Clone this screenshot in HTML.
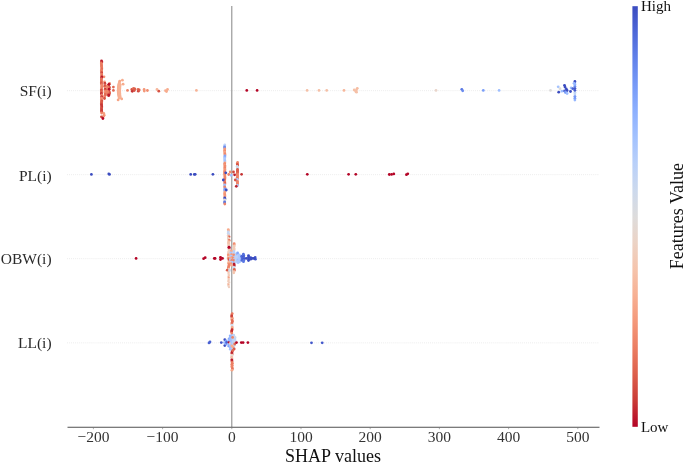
<!DOCTYPE html>
<html><head><meta charset="utf-8"><title>SHAP values</title>
<style>
html,body{margin:0;padding:0;background:#fff;}
body{width:685px;height:463px;overflow:hidden;font-family:"Liberation Serif","Times New Roman",serif;}
svg{display:block;}
text{font-family:"Liberation Serif","Times New Roman",serif;}
.tick{font-size:15.5px;fill:#333;text-anchor:middle;}
.feat{font-size:15.5px;fill:#2a2a2a;text-anchor:end;}
.cb{font-size:15px;fill:#111;}
</style></head><body>
<svg width="685" height="463" viewBox="0 0 685 463">
<defs><linearGradient id="cw" x1="0" y1="0" x2="0" y2="1">
<stop offset="0.0000" stop-color="#3b4cc0"/>
<stop offset="0.0625" stop-color="#4e68d8"/>
<stop offset="0.1250" stop-color="#6282ea"/>
<stop offset="0.1875" stop-color="#779af7"/>
<stop offset="0.2500" stop-color="#8db0fe"/>
<stop offset="0.3125" stop-color="#a3c2fe"/>
<stop offset="0.3750" stop-color="#b9d0f9"/>
<stop offset="0.4375" stop-color="#ccd9ed"/>
<stop offset="0.5000" stop-color="#dddcdc"/>
<stop offset="0.5625" stop-color="#ecd3c5"/>
<stop offset="0.6250" stop-color="#f5c4ac"/>
<stop offset="0.6875" stop-color="#f7b093"/>
<stop offset="0.7500" stop-color="#f4987a"/>
<stop offset="0.8125" stop-color="#eb7d62"/>
<stop offset="0.8750" stop-color="#dd5f4b"/>
<stop offset="0.9375" stop-color="#ca3b37"/>
<stop offset="1.0000" stop-color="#b40426"/>
</linearGradient></defs>
<rect width="685" height="463" fill="#fff"/>
<g stroke="#e9e9e9" stroke-width="0.9" stroke-dasharray="0.9 1.14" transform="translate(0,0.25)">
<line x1="67" x2="599" y1="90.4" y2="90.4"/>
<line x1="67" x2="599" y1="174.4" y2="174.4"/>
<line x1="67" x2="599" y1="258.4" y2="258.4"/>
<line x1="67" x2="599" y1="342.6" y2="342.6"/>
</g>
<line x1="231.8" x2="231.8" y1="6" y2="427" stroke="#8a8a8a" stroke-width="1.05"/>
<g>
<circle cx="119.5" cy="82.0" r="1.38" fill="#f7b093"/>
<circle cx="119.2" cy="83.0" r="1.38" fill="#f7b093"/>
<circle cx="118.9" cy="84.0" r="1.38" fill="#f7b093"/>
<circle cx="120.1" cy="84.5" r="1.38" fill="#f7b396"/>
<circle cx="118.7" cy="85.0" r="1.38" fill="#f7b093"/>
<circle cx="120.0" cy="85.5" r="1.38" fill="#f7b396"/>
<circle cx="118.5" cy="86.0" r="1.38" fill="#f7b093"/>
<circle cx="119.9" cy="86.5" r="1.38" fill="#f7b396"/>
<circle cx="118.4" cy="87.0" r="1.38" fill="#f7b093"/>
<circle cx="119.8" cy="87.5" r="1.38" fill="#f7b396"/>
<circle cx="118.3" cy="88.0" r="1.38" fill="#f7b093"/>
<circle cx="119.8" cy="88.5" r="1.38" fill="#f7b396"/>
<circle cx="118.2" cy="89.0" r="1.38" fill="#f7b093"/>
<circle cx="119.7" cy="89.5" r="1.38" fill="#f7b396"/>
<circle cx="118.2" cy="90.0" r="1.38" fill="#f7b093"/>
<circle cx="119.7" cy="90.5" r="1.38" fill="#f7b396"/>
<circle cx="118.2" cy="91.0" r="1.38" fill="#f7b093"/>
<circle cx="119.7" cy="91.5" r="1.38" fill="#f7b396"/>
<circle cx="118.2" cy="92.0" r="1.38" fill="#f7b093"/>
<circle cx="119.7" cy="92.5" r="1.38" fill="#f7b396"/>
<circle cx="118.3" cy="93.0" r="1.38" fill="#f7b093"/>
<circle cx="119.8" cy="93.5" r="1.38" fill="#f7b396"/>
<circle cx="118.4" cy="94.0" r="1.38" fill="#f7b093"/>
<circle cx="119.8" cy="94.5" r="1.38" fill="#f7b396"/>
<circle cx="118.6" cy="95.0" r="1.38" fill="#f7b093"/>
<circle cx="119.9" cy="95.5" r="1.38" fill="#f7b396"/>
<circle cx="118.8" cy="96.0" r="1.38" fill="#f7b093"/>
<circle cx="120.0" cy="96.5" r="1.38" fill="#f7b396"/>
<circle cx="119.0" cy="97.0" r="1.38" fill="#f7b093"/>
<circle cx="120.2" cy="97.5" r="1.38" fill="#f7b396"/>
<circle cx="119.2" cy="98.0" r="1.38" fill="#f7b093"/>
<circle cx="119.8" cy="81.1" r="1.38" fill="#f7a98b"/>
<circle cx="122.4" cy="80.2" r="1.38" fill="#f7ac8e"/>
<circle cx="123.1" cy="84.2" r="1.38" fill="#f7ac8e"/>
<circle cx="118.1" cy="99.9" r="1.38" fill="#f6a586"/>
<circle cx="121.7" cy="98.9" r="1.38" fill="#f7a98b"/>
<circle cx="109.5" cy="83.5" r="1.38" fill="#ee8468"/>
<circle cx="109.1" cy="84.5" r="1.38" fill="#e36c55"/>
<circle cx="108.3" cy="85.5" r="1.38" fill="#bb1b2c"/>
<circle cx="108.7" cy="86.5" r="1.38" fill="#dc5d4a"/>
<circle cx="109.5" cy="87.5" r="1.38" fill="#dc5d4a"/>
<circle cx="108.3" cy="88.5" r="1.38" fill="#ea7b60"/>
<circle cx="108.8" cy="89.5" r="1.38" fill="#bb1b2c"/>
<circle cx="108.3" cy="90.5" r="1.38" fill="#bb1b2c"/>
<circle cx="109.0" cy="91.5" r="1.38" fill="#dc5d4a"/>
<circle cx="109.4" cy="92.5" r="1.38" fill="#dc5d4a"/>
<circle cx="109.5" cy="93.5" r="1.38" fill="#dc5d4a"/>
<circle cx="109.0" cy="94.5" r="1.38" fill="#dc5d4a"/>
<circle cx="108.8" cy="95.5" r="1.38" fill="#bb1b2c"/>
<circle cx="107.3" cy="86.0" r="1.38" fill="#ee8468"/>
<circle cx="107.5" cy="87.5" r="1.38" fill="#ee8468"/>
<circle cx="107.6" cy="89.0" r="1.38" fill="#ee8468"/>
<circle cx="107.6" cy="90.5" r="1.38" fill="#f18d6f"/>
<circle cx="107.4" cy="92.0" r="1.38" fill="#ee8468"/>
<circle cx="107.5" cy="93.5" r="1.38" fill="#ee8468"/>
<circle cx="107.6" cy="95.0" r="1.38" fill="#e36c55"/>
<circle cx="104.5" cy="82.0" r="1.38" fill="#f4987a"/>
<circle cx="104.9" cy="83.5" r="1.38" fill="#c53334"/>
<circle cx="104.9" cy="85.0" r="1.38" fill="#e36c55"/>
<circle cx="104.7" cy="86.5" r="1.38" fill="#d65244"/>
<circle cx="105.3" cy="88.0" r="1.38" fill="#f18d6f"/>
<circle cx="105.2" cy="89.5" r="1.38" fill="#c53334"/>
<circle cx="105.0" cy="91.0" r="1.38" fill="#ee8468"/>
<circle cx="104.9" cy="92.5" r="1.38" fill="#f4987a"/>
<circle cx="105.2" cy="94.0" r="1.38" fill="#e36c55"/>
<circle cx="105.0" cy="95.5" r="1.38" fill="#e36c55"/>
<circle cx="104.4" cy="97.0" r="1.38" fill="#ee8468"/>
<circle cx="104.5" cy="98.5" r="1.38" fill="#d65244"/>
<circle cx="104.0" cy="76.8" r="1.38" fill="#f39577"/>
<circle cx="101.5" cy="61.0" r="1.38" fill="#bb1b2c"/>
<circle cx="101.9" cy="62.0" r="1.38" fill="#bb1b2c"/>
<circle cx="101.3" cy="63.0" r="1.38" fill="#e8765c"/>
<circle cx="101.3" cy="64.0" r="1.38" fill="#ec7f63"/>
<circle cx="101.6" cy="65.0" r="1.38" fill="#ec7f63"/>
<circle cx="101.5" cy="66.0" r="1.38" fill="#e8765c"/>
<circle cx="101.7" cy="67.0" r="1.38" fill="#e8765c"/>
<circle cx="101.8" cy="68.0" r="1.38" fill="#ec7f63"/>
<circle cx="101.8" cy="69.0" r="1.38" fill="#e36c55"/>
<circle cx="101.6" cy="70.0" r="1.38" fill="#e8765c"/>
<circle cx="101.3" cy="71.0" r="1.38" fill="#ec7f63"/>
<circle cx="101.7" cy="72.0" r="1.38" fill="#ec7f63"/>
<circle cx="101.7" cy="73.0" r="1.38" fill="#c32e31"/>
<circle cx="101.8" cy="74.0" r="1.38" fill="#ec7f63"/>
<circle cx="101.7" cy="75.0" r="1.38" fill="#e8765c"/>
<circle cx="101.5" cy="76.0" r="1.38" fill="#ec7f63"/>
<circle cx="101.9" cy="77.0" r="1.38" fill="#bb1b2c"/>
<circle cx="101.5" cy="78.0" r="1.38" fill="#bb1b2c"/>
<circle cx="101.4" cy="79.0" r="1.38" fill="#ec7f63"/>
<circle cx="101.4" cy="80.0" r="1.38" fill="#e36c55"/>
<circle cx="101.4" cy="81.0" r="1.38" fill="#e8765c"/>
<circle cx="101.5" cy="82.0" r="1.38" fill="#e36c55"/>
<circle cx="101.3" cy="83.0" r="1.38" fill="#dc5d4a"/>
<circle cx="101.5" cy="84.0" r="1.38" fill="#dc5d4a"/>
<circle cx="101.8" cy="85.0" r="1.38" fill="#ee8468"/>
<circle cx="101.8" cy="86.0" r="1.38" fill="#f18d6f"/>
<circle cx="101.7" cy="87.0" r="1.38" fill="#ee8468"/>
<circle cx="101.7" cy="88.0" r="1.38" fill="#ee8468"/>
<circle cx="101.9" cy="89.0" r="1.38" fill="#f18d6f"/>
<circle cx="101.3" cy="90.0" r="1.38" fill="#d65244"/>
<circle cx="101.4" cy="91.0" r="1.38" fill="#d65244"/>
<circle cx="101.3" cy="92.0" r="1.38" fill="#e36c55"/>
<circle cx="101.5" cy="93.0" r="1.38" fill="#d65244"/>
<circle cx="101.4" cy="94.0" r="1.38" fill="#bb1b2c"/>
<circle cx="101.7" cy="95.0" r="1.38" fill="#ee8468"/>
<circle cx="101.9" cy="96.0" r="1.38" fill="#ee8468"/>
<circle cx="101.6" cy="97.0" r="1.38" fill="#bb1b2c"/>
<circle cx="101.5" cy="98.0" r="1.38" fill="#f18d6f"/>
<circle cx="101.4" cy="99.0" r="1.38" fill="#f18d6f"/>
<circle cx="101.3" cy="100.0" r="1.38" fill="#f18d6f"/>
<circle cx="101.9" cy="101.0" r="1.38" fill="#d65244"/>
<circle cx="101.4" cy="102.0" r="1.38" fill="#dc5d4a"/>
<circle cx="101.7" cy="103.0" r="1.38" fill="#dc5d4a"/>
<circle cx="101.3" cy="104.0" r="1.38" fill="#d65244"/>
<circle cx="101.6" cy="105.0" r="1.38" fill="#c53334"/>
<circle cx="101.7" cy="106.0" r="1.38" fill="#cc403a"/>
<circle cx="101.8" cy="107.0" r="1.38" fill="#c53334"/>
<circle cx="101.5" cy="108.0" r="1.38" fill="#d44e41"/>
<circle cx="101.5" cy="109.0" r="1.38" fill="#d44e41"/>
<circle cx="101.7" cy="110.0" r="1.38" fill="#cc403a"/>
<circle cx="101.4" cy="111.0" r="1.38" fill="#cc403a"/>
<circle cx="101.9" cy="112.0" r="1.38" fill="#cc403a"/>
<circle cx="101.6" cy="113.0" r="1.38" fill="#ee8468"/>
<circle cx="103.8" cy="113.5" r="1.38" fill="#f59d7e"/>
<circle cx="104.2" cy="115.2" r="1.38" fill="#f59d7e"/>
<circle cx="103.6" cy="116.3" r="1.38" fill="#f39577"/>
<circle cx="101.4" cy="116.8" r="1.38" fill="#d0473d"/>
<circle cx="102.9" cy="118.5" r="1.38" fill="#b40426"/>
<circle cx="108.9" cy="84.3" r="1.38" fill="#b70d28"/>
<circle cx="109.1" cy="89.2" r="1.38" fill="#b70d28"/>
<circle cx="108.7" cy="95.0" r="1.38" fill="#bb1b2c"/>
<circle cx="106.6" cy="91.5" r="1.38" fill="#ee8468"/>
<circle cx="113.4" cy="87.1" r="1.38" fill="#e16751"/>
<circle cx="113.4" cy="90.4" r="1.38" fill="#e16751"/>
<circle cx="127.5" cy="90.4" r="1.38" fill="#ee8468"/>
<circle cx="131.8" cy="89.5" r="1.38" fill="#d65244"/>
<circle cx="132.3" cy="91.3" r="1.38" fill="#c53334"/>
<circle cx="133.5" cy="88.5" r="1.38" fill="#e36c55"/>
<circle cx="134.3" cy="90.5" r="1.38" fill="#d65244"/>
<circle cx="134.8" cy="89.0" r="1.38" fill="#dc5d4a"/>
<circle cx="138.0" cy="89.3" r="1.38" fill="#e36c55"/>
<circle cx="138.3" cy="91.2" r="1.38" fill="#d0473d"/>
<circle cx="139.2" cy="90.0" r="1.38" fill="#dc5d4a"/>
<circle cx="144.1" cy="89.5" r="1.38" fill="#f4987a"/>
<circle cx="144.3" cy="91.0" r="1.38" fill="#f4987a"/>
<circle cx="147.4" cy="90.5" r="1.38" fill="#f18d6f"/>
<circle cx="157.0" cy="89.5" r="1.38" fill="#f7b79b"/>
<circle cx="158.8" cy="91.2" r="1.38" fill="#d65244"/>
<circle cx="165.5" cy="90.7" r="1.38" fill="#f7ac8e"/>
<circle cx="167.5" cy="89.5" r="1.38" fill="#f7ac8e"/>
<circle cx="166.5" cy="91.5" r="1.38" fill="#f7ac8e"/>
<circle cx="196.4" cy="90.4" r="1.38" fill="#f7b396"/>
<circle cx="246.8" cy="90.4" r="1.38" fill="#b40426"/>
<circle cx="257.1" cy="90.4" r="1.38" fill="#b40426"/>
<circle cx="307.1" cy="90.4" r="1.38" fill="#f5c0a7"/>
<circle cx="319.0" cy="90.4" r="1.38" fill="#f5c0a7"/>
<circle cx="326.7" cy="90.4" r="1.38" fill="#f5c0a7"/>
<circle cx="344.0" cy="90.4" r="1.38" fill="#f7b79b"/>
<circle cx="354.2" cy="90.0" r="1.38" fill="#f5c0a7"/>
<circle cx="355.8" cy="91.5" r="1.38" fill="#f5c0a7"/>
<circle cx="356.5" cy="89.8" r="1.38" fill="#f5c0a7"/>
<circle cx="357.3" cy="88.3" r="1.38" fill="#f6bda2"/>
<circle cx="356.5" cy="92.2" r="1.38" fill="#f5c0a7"/>
<circle cx="436.0" cy="90.4" r="1.38" fill="#e9d5cb"/>
<circle cx="461.8" cy="89.3" r="1.38" fill="#5977e3"/>
<circle cx="462.7" cy="90.8" r="1.38" fill="#6a8bef"/>
<circle cx="483.3" cy="90.4" r="1.38" fill="#7b9ff9"/>
<circle cx="499.1" cy="90.4" r="1.38" fill="#9ebeff"/>
<circle cx="550.5" cy="90.4" r="1.38" fill="#dddcdc"/>
<circle cx="558.2" cy="86.8" r="1.38" fill="#a5c3fe"/>
<circle cx="560.0" cy="88.7" r="1.38" fill="#dddcdc"/>
<circle cx="558.7" cy="92.2" r="1.38" fill="#3b4cc0"/>
<circle cx="561.9" cy="91.2" r="1.38" fill="#9ebeff"/>
<circle cx="564.5" cy="85.3" r="1.38" fill="#3b4cc0"/>
<circle cx="565.0" cy="87.0" r="1.38" fill="#3b4cc0"/>
<circle cx="564.5" cy="91.0" r="1.38" fill="#4961d2"/>
<circle cx="566.3" cy="89.0" r="1.38" fill="#3b4cc0"/>
<circle cx="567.1" cy="90.5" r="1.38" fill="#3b4cc0"/>
<circle cx="565.4" cy="92.5" r="1.38" fill="#7b9ff9"/>
<circle cx="567.1" cy="93.5" r="1.38" fill="#9ebeff"/>
<circle cx="570.5" cy="91.5" r="1.38" fill="#3b4cc0"/>
<circle cx="571.1" cy="88.0" r="1.38" fill="#9ebeff"/>
<circle cx="572.8" cy="88.7" r="1.38" fill="#4961d2"/>
<circle cx="574.9" cy="100.0" r="1.38" fill="#97b8ff"/>
<circle cx="574.9" cy="98.2" r="1.38" fill="#7b9ff9"/>
<circle cx="574.9" cy="96.3" r="1.38" fill="#7597f6"/>
<circle cx="574.9" cy="94.0" r="1.38" fill="#c0d4f5"/>
<circle cx="574.9" cy="92.3" r="1.38" fill="#c0d4f5"/>
<circle cx="574.9" cy="90.3" r="1.38" fill="#4358cb"/>
<circle cx="574.9" cy="88.3" r="1.38" fill="#4358cb"/>
<circle cx="574.9" cy="86.2" r="1.38" fill="#6a8bef"/>
<circle cx="574.9" cy="84.5" r="1.38" fill="#8db0fe"/>
<circle cx="574.9" cy="83.0" r="1.38" fill="#8db0fe"/>
<circle cx="574.9" cy="81.4" r="1.38" fill="#3b4cc0"/>
<circle cx="574.0" cy="83.3" r="1.38" fill="#97b8ff"/>
<circle cx="91.4" cy="174.4" r="1.38" fill="#3b4cc0"/>
<circle cx="108.8" cy="173.9" r="1.38" fill="#3b4cc0"/>
<circle cx="109.5" cy="174.4" r="1.38" fill="#3b4cc0"/>
<circle cx="190.7" cy="174.4" r="1.38" fill="#3b4cc0"/>
<circle cx="194.3" cy="174.4" r="1.38" fill="#3b4cc0"/>
<circle cx="195.2" cy="174.3" r="1.38" fill="#3b4cc0"/>
<circle cx="212.9" cy="174.3" r="1.38" fill="#3b4cc0"/>
<circle cx="224.8" cy="145.0" r="1.38" fill="#bad0f8"/>
<circle cx="224.6" cy="146.0" r="1.38" fill="#bad0f8"/>
<circle cx="224.6" cy="147.0" r="1.38" fill="#6a8bef"/>
<circle cx="224.7" cy="148.0" r="1.38" fill="#6a8bef"/>
<circle cx="224.8" cy="149.0" r="1.38" fill="#f39577"/>
<circle cx="224.7" cy="150.0" r="1.38" fill="#f6a586"/>
<circle cx="224.7" cy="151.0" r="1.38" fill="#ee8468"/>
<circle cx="224.7" cy="152.0" r="1.38" fill="#f6a586"/>
<circle cx="224.8" cy="153.0" r="1.38" fill="#f6a586"/>
<circle cx="224.9" cy="154.0" r="1.38" fill="#ee8468"/>
<circle cx="225.0" cy="155.0" r="1.38" fill="#f39577"/>
<circle cx="224.9" cy="156.0" r="1.38" fill="#82a6fb"/>
<circle cx="224.9" cy="157.0" r="1.38" fill="#82a6fb"/>
<circle cx="224.8" cy="158.0" r="1.38" fill="#9ebeff"/>
<circle cx="224.7" cy="159.0" r="1.38" fill="#afcafc"/>
<circle cx="224.8" cy="160.0" r="1.38" fill="#afcafc"/>
<circle cx="224.9" cy="161.0" r="1.38" fill="#9ebeff"/>
<circle cx="224.9" cy="162.0" r="1.38" fill="#afcafc"/>
<circle cx="224.9" cy="163.0" r="1.38" fill="#f6a586"/>
<circle cx="224.7" cy="164.0" r="1.38" fill="#ea7b60"/>
<circle cx="224.7" cy="165.0" r="1.38" fill="#f6a586"/>
<circle cx="225.0" cy="166.0" r="1.38" fill="#ee8468"/>
<circle cx="224.8" cy="167.0" r="1.38" fill="#f39577"/>
<circle cx="224.9" cy="168.0" r="1.38" fill="#ea7b60"/>
<circle cx="224.8" cy="169.0" r="1.38" fill="#f39577"/>
<circle cx="225.0" cy="170.0" r="1.38" fill="#f39577"/>
<circle cx="224.6" cy="171.0" r="1.38" fill="#f39577"/>
<circle cx="224.7" cy="172.0" r="1.38" fill="#ee8468"/>
<circle cx="224.7" cy="173.0" r="1.38" fill="#ee8468"/>
<circle cx="224.7" cy="174.0" r="1.38" fill="#ee8468"/>
<circle cx="224.8" cy="175.0" r="1.38" fill="#ee8468"/>
<circle cx="224.9" cy="176.0" r="1.38" fill="#f18d6f"/>
<circle cx="224.9" cy="177.0" r="1.38" fill="#ee8468"/>
<circle cx="225.0" cy="178.0" r="1.38" fill="#ee8468"/>
<circle cx="224.8" cy="179.0" r="1.38" fill="#ee8468"/>
<circle cx="224.8" cy="180.0" r="1.38" fill="#e36c55"/>
<circle cx="224.7" cy="181.0" r="1.38" fill="#ee8468"/>
<circle cx="224.8" cy="182.0" r="1.38" fill="#ee8468"/>
<circle cx="224.9" cy="183.0" r="1.38" fill="#dc5d4a"/>
<circle cx="224.9" cy="184.0" r="1.38" fill="#e36c55"/>
<circle cx="224.7" cy="185.0" r="1.38" fill="#9ebeff"/>
<circle cx="224.7" cy="186.0" r="1.38" fill="#9ebeff"/>
<circle cx="224.7" cy="187.0" r="1.38" fill="#ee8468"/>
<circle cx="225.0" cy="188.0" r="1.38" fill="#ee8468"/>
<circle cx="224.9" cy="189.0" r="1.38" fill="#7b9ff9"/>
<circle cx="224.7" cy="190.0" r="1.38" fill="#7b9ff9"/>
<circle cx="224.9" cy="191.0" r="1.38" fill="#7b9ff9"/>
<circle cx="224.9" cy="192.0" r="1.38" fill="#f6a586"/>
<circle cx="224.7" cy="193.0" r="1.38" fill="#f6a586"/>
<circle cx="224.7" cy="194.0" r="1.38" fill="#f4987a"/>
<circle cx="224.9" cy="195.0" r="1.38" fill="#f18d6f"/>
<circle cx="224.9" cy="196.0" r="1.38" fill="#f4987a"/>
<circle cx="224.9" cy="197.0" r="1.38" fill="#f4987a"/>
<circle cx="224.7" cy="198.0" r="1.38" fill="#3b4cc0"/>
<circle cx="225.0" cy="199.0" r="1.38" fill="#3b4cc0"/>
<circle cx="224.7" cy="200.0" r="1.38" fill="#dddcdc"/>
<circle cx="224.9" cy="201.0" r="1.38" fill="#dddcdc"/>
<circle cx="224.6" cy="202.0" r="1.38" fill="#5977e3"/>
<circle cx="224.7" cy="203.0" r="1.38" fill="#5977e3"/>
<circle cx="224.8" cy="204.0" r="1.38" fill="#ee8468"/>
<circle cx="223.3" cy="180.0" r="1.38" fill="#3b4cc0"/>
<circle cx="226.3" cy="190.0" r="1.38" fill="#3b4cc0"/>
<circle cx="225.8" cy="172.8" r="1.38" fill="#3b4cc0"/>
<circle cx="237.6" cy="162.5" r="1.38" fill="#ee8468"/>
<circle cx="237.3" cy="163.5" r="1.38" fill="#ee8468"/>
<circle cx="237.4" cy="164.5" r="1.38" fill="#d65244"/>
<circle cx="237.6" cy="165.5" r="1.38" fill="#d65244"/>
<circle cx="237.1" cy="166.5" r="1.38" fill="#cfdaea"/>
<circle cx="237.5" cy="167.5" r="1.38" fill="#cfdaea"/>
<circle cx="237.6" cy="168.5" r="1.38" fill="#cfdaea"/>
<circle cx="237.5" cy="169.5" r="1.38" fill="#dc5d4a"/>
<circle cx="237.6" cy="170.5" r="1.38" fill="#dc5d4a"/>
<circle cx="237.4" cy="171.5" r="1.38" fill="#dc5d4a"/>
<circle cx="237.6" cy="172.5" r="1.38" fill="#dc5d4a"/>
<circle cx="237.2" cy="173.5" r="1.38" fill="#e36c55"/>
<circle cx="237.4" cy="174.5" r="1.38" fill="#ee8468"/>
<circle cx="237.6" cy="175.5" r="1.38" fill="#ee8468"/>
<circle cx="237.5" cy="176.5" r="1.38" fill="#ee8468"/>
<circle cx="237.2" cy="177.5" r="1.38" fill="#ee8468"/>
<circle cx="237.5" cy="178.5" r="1.38" fill="#ea7b60"/>
<circle cx="237.2" cy="179.5" r="1.38" fill="#afcafc"/>
<circle cx="237.1" cy="180.5" r="1.38" fill="#afcafc"/>
<circle cx="237.5" cy="181.5" r="1.38" fill="#ee8468"/>
<circle cx="237.4" cy="182.5" r="1.38" fill="#ee8468"/>
<circle cx="237.4" cy="183.5" r="1.38" fill="#ee8468"/>
<circle cx="237.6" cy="184.5" r="1.38" fill="#ee8468"/>
<circle cx="237.6" cy="185.5" r="1.38" fill="#afcafc"/>
<circle cx="235.3" cy="180.0" r="1.38" fill="#d65244"/>
<circle cx="236.3" cy="186.3" r="1.38" fill="#be242e"/>
<circle cx="233.5" cy="172.0" r="1.38" fill="#d0473d"/>
<circle cx="234.6" cy="174.8" r="1.38" fill="#bb1b2c"/>
<circle cx="228.7" cy="174.5" r="1.38" fill="#ee8468"/>
<circle cx="230.2" cy="172.0" r="1.38" fill="#f18d6f"/>
<circle cx="231.1" cy="175.3" r="1.38" fill="#9ebeff"/>
<circle cx="241.6" cy="174.3" r="1.38" fill="#c53334"/>
<circle cx="307.3" cy="174.3" r="1.38" fill="#b40426"/>
<circle cx="348.6" cy="174.3" r="1.38" fill="#b40426"/>
<circle cx="355.8" cy="174.3" r="1.38" fill="#b40426"/>
<circle cx="389.3" cy="174.5" r="1.38" fill="#b40426"/>
<circle cx="391.6" cy="174.4" r="1.38" fill="#b40426"/>
<circle cx="393.8" cy="173.9" r="1.38" fill="#b40426"/>
<circle cx="406.4" cy="174.7" r="1.38" fill="#b40426"/>
<circle cx="407.8" cy="173.8" r="1.38" fill="#b40426"/>
<circle cx="136.1" cy="258.4" r="1.38" fill="#b40426"/>
<circle cx="203.6" cy="258.7" r="1.38" fill="#b40426"/>
<circle cx="205.2" cy="257.7" r="1.38" fill="#b40426"/>
<circle cx="215.1" cy="258.4" r="1.38" fill="#b40426"/>
<circle cx="214.3" cy="258.4" r="1.38" fill="#b40426"/>
<circle cx="220.5" cy="257.3" r="1.38" fill="#b40426"/>
<circle cx="220.5" cy="259.5" r="1.38" fill="#b40426"/>
<circle cx="222.5" cy="258.4" r="1.38" fill="#b40426"/>
<circle cx="228.3" cy="229.6" r="1.38" fill="#f7ac8e"/>
<circle cx="228.4" cy="230.8" r="1.38" fill="#f7ac8e"/>
<circle cx="228.2" cy="232.0" r="1.38" fill="#c6d6f1"/>
<circle cx="228.3" cy="233.2" r="1.38" fill="#c6d6f1"/>
<circle cx="228.7" cy="234.4" r="1.38" fill="#c6d6f1"/>
<circle cx="228.2" cy="235.6" r="1.38" fill="#efcfbf"/>
<circle cx="229.1" cy="236.8" r="1.38" fill="#dc5d4a"/>
<circle cx="228.3" cy="238.0" r="1.38" fill="#efcfbf"/>
<circle cx="228.5" cy="239.2" r="1.38" fill="#efcfbf"/>
<circle cx="229.2" cy="240.4" r="1.38" fill="#e8765c"/>
<circle cx="228.7" cy="241.6" r="1.38" fill="#f5c0a7"/>
<circle cx="228.5" cy="242.8" r="1.38" fill="#f5c0a7"/>
<circle cx="228.7" cy="244.0" r="1.38" fill="#f5c0a7"/>
<circle cx="228.7" cy="245.2" r="1.38" fill="#f2cbb7"/>
<circle cx="228.9" cy="246.4" r="1.38" fill="#efcfbf"/>
<circle cx="229.1" cy="247.6" r="1.38" fill="#b40426"/>
<circle cx="229.1" cy="248.8" r="1.38" fill="#b40426"/>
<circle cx="229.1" cy="250.0" r="1.38" fill="#f2cbb7"/>
<circle cx="229.0" cy="251.2" r="1.38" fill="#efcfbf"/>
<circle cx="228.6" cy="252.4" r="1.38" fill="#efcfbf"/>
<circle cx="228.6" cy="253.6" r="1.38" fill="#f2cbb7"/>
<circle cx="228.3" cy="254.8" r="1.38" fill="#f4987a"/>
<circle cx="228.4" cy="256.0" r="1.38" fill="#f4987a"/>
<circle cx="228.3" cy="257.2" r="1.38" fill="#f4c6af"/>
<circle cx="228.5" cy="258.4" r="1.38" fill="#ee8468"/>
<circle cx="229.1" cy="259.6" r="1.38" fill="#d65244"/>
<circle cx="229.1" cy="260.8" r="1.38" fill="#d65244"/>
<circle cx="228.9" cy="262.0" r="1.38" fill="#f6bda2"/>
<circle cx="228.5" cy="263.2" r="1.38" fill="#f7ac8e"/>
<circle cx="229.2" cy="264.4" r="1.38" fill="#ee8468"/>
<circle cx="228.9" cy="265.6" r="1.38" fill="#ee8468"/>
<circle cx="228.6" cy="266.8" r="1.38" fill="#ee8468"/>
<circle cx="228.4" cy="268.0" r="1.38" fill="#ea7b60"/>
<circle cx="228.9" cy="269.2" r="1.38" fill="#f2cbb7"/>
<circle cx="228.4" cy="270.4" r="1.38" fill="#f2cbb7"/>
<circle cx="228.9" cy="271.6" r="1.15" fill="#f2cbb7"/>
<circle cx="228.5" cy="272.8" r="1.15" fill="#f4c6af"/>
<circle cx="228.6" cy="274.0" r="1.15" fill="#efcfbf"/>
<circle cx="228.9" cy="275.2" r="1.15" fill="#f2cbb7"/>
<circle cx="228.5" cy="276.4" r="1.15" fill="#f2cbb7"/>
<circle cx="228.7" cy="277.6" r="1.15" fill="#f4987a"/>
<circle cx="228.6" cy="278.8" r="1.15" fill="#f2cbb7"/>
<circle cx="228.7" cy="280.0" r="1.15" fill="#f2cbb7"/>
<circle cx="228.3" cy="281.2" r="1.15" fill="#f2cbb7"/>
<circle cx="229.2" cy="282.4" r="1.15" fill="#efcfbf"/>
<circle cx="228.3" cy="283.6" r="1.15" fill="#f2cbb7"/>
<circle cx="228.5" cy="284.8" r="1.15" fill="#f7ac8e"/>
<circle cx="228.5" cy="286.0" r="1.15" fill="#efcfbf"/>
<circle cx="229.0" cy="287.2" r="1.15" fill="#efcfbf"/>
<circle cx="227.2" cy="270.2" r="1.38" fill="#dc5d4a"/>
<circle cx="229.6" cy="270.5" r="1.38" fill="#cfdaea"/>
<circle cx="229.0" cy="247.2" r="1.38" fill="#b40426"/>
<circle cx="234.2" cy="243.7" r="1.38" fill="#f18d6f"/>
<circle cx="234.1" cy="244.8" r="1.38" fill="#f18d6f"/>
<circle cx="234.3" cy="245.9" r="1.38" fill="#f2cbb7"/>
<circle cx="233.9" cy="247.1" r="1.38" fill="#f2cbb7"/>
<circle cx="234.0" cy="248.2" r="1.38" fill="#f2cbb7"/>
<circle cx="234.0" cy="249.3" r="1.38" fill="#f2cbb7"/>
<circle cx="234.0" cy="250.4" r="1.38" fill="#f2cbb7"/>
<circle cx="233.9" cy="251.5" r="1.38" fill="#bad0f8"/>
<circle cx="233.9" cy="252.7" r="1.38" fill="#bad0f8"/>
<circle cx="234.2" cy="253.8" r="1.38" fill="#bad0f8"/>
<circle cx="233.8" cy="254.9" r="1.38" fill="#f18d6f"/>
<circle cx="234.2" cy="256.0" r="1.38" fill="#f18d6f"/>
<circle cx="234.3" cy="257.1" r="1.38" fill="#afcafc"/>
<circle cx="233.8" cy="258.3" r="1.38" fill="#f7ac8e"/>
<circle cx="233.8" cy="259.4" r="1.38" fill="#afcafc"/>
<circle cx="233.7" cy="260.5" r="1.38" fill="#ee8468"/>
<circle cx="234.0" cy="261.6" r="1.38" fill="#ee8468"/>
<circle cx="234.3" cy="262.7" r="1.38" fill="#afcafc"/>
<circle cx="234.0" cy="263.9" r="1.38" fill="#bb1b2c"/>
<circle cx="234.2" cy="265.0" r="1.38" fill="#bb1b2c"/>
<circle cx="234.1" cy="266.1" r="1.38" fill="#bb1b2c"/>
<circle cx="233.7" cy="267.2" r="1.38" fill="#cfdaea"/>
<circle cx="234.1" cy="268.3" r="1.38" fill="#cfdaea"/>
<circle cx="234.3" cy="269.5" r="1.38" fill="#e16751"/>
<circle cx="234.3" cy="270.6" r="1.38" fill="#e16751"/>
<circle cx="233.9" cy="271.7" r="1.38" fill="#f4c6af"/>
<circle cx="233.8" cy="272.8" r="1.38" fill="#f4c6af"/>
<circle cx="231.3" cy="251.0" r="1.38" fill="#f7ac8e"/>
<circle cx="230.8" cy="253.0" r="1.38" fill="#adc9fd"/>
<circle cx="231.6" cy="254.6" r="1.38" fill="#f4987a"/>
<circle cx="231.0" cy="256.2" r="1.38" fill="#adc9fd"/>
<circle cx="232.3" cy="257.6" r="1.38" fill="#f18d6f"/>
<circle cx="230.6" cy="258.2" r="1.38" fill="#f7ac8e"/>
<circle cx="230.3" cy="259.8" r="1.38" fill="#adc9fd"/>
<circle cx="231.8" cy="260.4" r="1.38" fill="#ee8468"/>
<circle cx="232.0" cy="262.2" r="1.38" fill="#adc9fd"/>
<circle cx="230.9" cy="263.6" r="1.38" fill="#f4987a"/>
<circle cx="231.5" cy="265.3" r="1.38" fill="#f7ac8e"/>
<circle cx="236.1" cy="254.0" r="1.38" fill="#c0d4f5"/>
<circle cx="236.1" cy="255.6" r="1.38" fill="#bad0f8"/>
<circle cx="236.0" cy="257.2" r="1.38" fill="#c0d4f5"/>
<circle cx="235.9" cy="258.8" r="1.38" fill="#bad0f8"/>
<circle cx="236.1" cy="260.4" r="1.38" fill="#c0d4f5"/>
<circle cx="235.8" cy="262.0" r="1.38" fill="#c0d4f5"/>
<circle cx="237.6" cy="252.9" r="1.38" fill="#85a8fc"/>
<circle cx="237.8" cy="254.3" r="1.38" fill="#85a8fc"/>
<circle cx="237.8" cy="255.7" r="1.38" fill="#bad0f8"/>
<circle cx="238.0" cy="257.1" r="1.38" fill="#bad0f8"/>
<circle cx="237.9" cy="258.5" r="1.38" fill="#bad0f8"/>
<circle cx="237.8" cy="259.9" r="1.38" fill="#9ebeff"/>
<circle cx="237.8" cy="261.3" r="1.38" fill="#adc9fd"/>
<circle cx="238.0" cy="262.7" r="1.38" fill="#adc9fd"/>
<circle cx="239.4" cy="254.8" r="1.38" fill="#adc9fd"/>
<circle cx="239.4" cy="256.2" r="1.38" fill="#adc9fd"/>
<circle cx="239.4" cy="257.6" r="1.38" fill="#adc9fd"/>
<circle cx="239.4" cy="259.0" r="1.38" fill="#adc9fd"/>
<circle cx="239.7" cy="260.4" r="1.38" fill="#adc9fd"/>
<circle cx="239.6" cy="261.8" r="1.38" fill="#adc9fd"/>
<circle cx="241.7" cy="256.2" r="1.38" fill="#4f69d9"/>
<circle cx="242.0" cy="257.6" r="1.38" fill="#4f69d9"/>
<circle cx="242.0" cy="259.0" r="1.38" fill="#4f69d9"/>
<circle cx="241.9" cy="260.4" r="1.38" fill="#4f69d9"/>
<circle cx="243.4" cy="254.2" r="1.38" fill="#4f69d9"/>
<circle cx="243.8" cy="255.4" r="1.38" fill="#5977e3"/>
<circle cx="243.5" cy="256.7" r="1.38" fill="#4358cb"/>
<circle cx="243.7" cy="257.9" r="1.38" fill="#4f69d9"/>
<circle cx="243.7" cy="259.2" r="1.38" fill="#4358cb"/>
<circle cx="243.8" cy="260.4" r="1.38" fill="#5977e3"/>
<circle cx="243.5" cy="261.7" r="1.38" fill="#5977e3"/>
<circle cx="246.2" cy="258.4" r="1.38" fill="#3b4cc0"/>
<circle cx="248.5" cy="255.6" r="1.38" fill="#3b4cc0"/>
<circle cx="248.6" cy="256.9" r="1.38" fill="#3b4cc0"/>
<circle cx="248.5" cy="258.1" r="1.38" fill="#3b4cc0"/>
<circle cx="248.6" cy="259.4" r="1.38" fill="#3b4cc0"/>
<circle cx="248.5" cy="260.6" r="1.38" fill="#3b4cc0"/>
<circle cx="250.7" cy="257.6" r="1.38" fill="#3b4cc0"/>
<circle cx="250.7" cy="259.2" r="1.38" fill="#3b4cc0"/>
<circle cx="252.8" cy="258.4" r="1.38" fill="#3b4cc0"/>
<circle cx="255.2" cy="257.5" r="1.38" fill="#4358cb"/>
<circle cx="255.4" cy="259.2" r="1.38" fill="#4358cb"/>
<circle cx="254.2" cy="258.4" r="1.38" fill="#3b4cc0"/>
<circle cx="209.0" cy="342.9" r="1.38" fill="#4961d2"/>
<circle cx="210.0" cy="342.0" r="1.38" fill="#4961d2"/>
<circle cx="221.3" cy="342.6" r="1.38" fill="#4358cb"/>
<circle cx="224.8" cy="339.7" r="1.38" fill="#3b4cc0"/>
<circle cx="224.8" cy="345.6" r="1.38" fill="#3b4cc0"/>
<circle cx="224.4" cy="342.6" r="1.38" fill="#9ebeff"/>
<circle cx="226.0" cy="341.0" r="1.38" fill="#7b9ff9"/>
<circle cx="226.0" cy="344.0" r="1.38" fill="#7b9ff9"/>
<circle cx="226.8" cy="342.3" r="1.38" fill="#4961d2"/>
<circle cx="228.8" cy="338.8" r="1.15" fill="#82a6fb"/>
<circle cx="228.5" cy="340.3" r="1.15" fill="#97b8ff"/>
<circle cx="228.8" cy="341.8" r="1.15" fill="#8db0fe"/>
<circle cx="228.5" cy="343.3" r="1.15" fill="#82a6fb"/>
<circle cx="228.4" cy="344.8" r="1.15" fill="#8db0fe"/>
<circle cx="228.4" cy="346.3" r="1.15" fill="#82a6fb"/>
<circle cx="230.2" cy="335.8" r="1.38" fill="#8db0fe"/>
<circle cx="230.1" cy="337.3" r="1.38" fill="#97b8ff"/>
<circle cx="230.0" cy="338.8" r="1.38" fill="#97b8ff"/>
<circle cx="230.1" cy="340.3" r="1.38" fill="#97b8ff"/>
<circle cx="230.0" cy="341.8" r="1.38" fill="#9ebeff"/>
<circle cx="230.1" cy="343.3" r="1.38" fill="#97b8ff"/>
<circle cx="230.1" cy="344.8" r="1.38" fill="#9ebeff"/>
<circle cx="230.4" cy="346.3" r="1.38" fill="#9ebeff"/>
<circle cx="230.3" cy="347.8" r="1.38" fill="#97b8ff"/>
<circle cx="230.3" cy="349.3" r="1.38" fill="#9ebeff"/>
<circle cx="231.9" cy="335.0" r="1.38" fill="#adc9fd"/>
<circle cx="232.0" cy="336.5" r="1.38" fill="#9ebeff"/>
<circle cx="231.8" cy="338.0" r="1.38" fill="#9ebeff"/>
<circle cx="231.9" cy="339.5" r="1.38" fill="#adc9fd"/>
<circle cx="231.7" cy="341.0" r="1.38" fill="#a5c3fe"/>
<circle cx="232.1" cy="342.5" r="1.38" fill="#adc9fd"/>
<circle cx="231.9" cy="344.0" r="1.38" fill="#adc9fd"/>
<circle cx="232.0" cy="345.5" r="1.38" fill="#adc9fd"/>
<circle cx="232.1" cy="347.0" r="1.38" fill="#a5c3fe"/>
<circle cx="231.9" cy="348.5" r="1.38" fill="#adc9fd"/>
<circle cx="233.7" cy="335.2" r="1.38" fill="#c0d4f5"/>
<circle cx="233.7" cy="336.7" r="1.38" fill="#c6d6f1"/>
<circle cx="233.7" cy="338.2" r="1.38" fill="#c6d6f1"/>
<circle cx="233.7" cy="339.7" r="1.38" fill="#c6d6f1"/>
<circle cx="233.4" cy="341.2" r="1.38" fill="#c0d4f5"/>
<circle cx="233.7" cy="342.7" r="1.38" fill="#c0d4f5"/>
<circle cx="233.6" cy="344.2" r="1.38" fill="#c0d4f5"/>
<circle cx="233.6" cy="345.7" r="1.38" fill="#bad0f8"/>
<circle cx="233.4" cy="347.2" r="1.38" fill="#c6d6f1"/>
<circle cx="235.1" cy="337.5" r="1.38" fill="#ccd9ed"/>
<circle cx="234.9" cy="339.0" r="1.38" fill="#c0d4f5"/>
<circle cx="235.1" cy="340.5" r="1.38" fill="#c0d4f5"/>
<circle cx="235.2" cy="342.0" r="1.38" fill="#ccd9ed"/>
<circle cx="234.8" cy="343.5" r="1.38" fill="#ccd9ed"/>
<circle cx="234.8" cy="345.0" r="1.38" fill="#ccd9ed"/>
<circle cx="232.2" cy="313.6" r="1.38" fill="#ea7b60"/>
<circle cx="231.8" cy="314.8" r="1.38" fill="#ea7b60"/>
<circle cx="231.7" cy="315.9" r="1.38" fill="#cc403a"/>
<circle cx="231.8" cy="317.0" r="1.38" fill="#cc403a"/>
<circle cx="232.2" cy="318.2" r="1.38" fill="#ee8468"/>
<circle cx="231.8" cy="319.3" r="1.38" fill="#f7ac8e"/>
<circle cx="232.2" cy="320.5" r="1.38" fill="#e36c55"/>
<circle cx="232.4" cy="321.6" r="1.38" fill="#e36c55"/>
<circle cx="232.0" cy="322.8" r="1.38" fill="#e36c55"/>
<circle cx="231.9" cy="323.9" r="1.38" fill="#e36c55"/>
<circle cx="232.0" cy="325.1" r="1.38" fill="#cfdaea"/>
<circle cx="232.1" cy="326.2" r="1.38" fill="#cfdaea"/>
<circle cx="232.2" cy="327.4" r="1.38" fill="#f6a586"/>
<circle cx="232.1" cy="328.5" r="1.38" fill="#f6a586"/>
<circle cx="232.1" cy="329.7" r="1.38" fill="#c32e31"/>
<circle cx="231.7" cy="330.8" r="1.38" fill="#c32e31"/>
<circle cx="231.7" cy="332.0" r="1.38" fill="#c32e31"/>
<circle cx="231.8" cy="333.1" r="1.38" fill="#ee8468"/>
<circle cx="232.2" cy="351.8" r="1.38" fill="#be242e"/>
<circle cx="231.8" cy="352.9" r="1.38" fill="#be242e"/>
<circle cx="232.1" cy="354.1" r="1.38" fill="#be242e"/>
<circle cx="232.0" cy="355.2" r="1.38" fill="#f2cbb7"/>
<circle cx="231.8" cy="356.4" r="1.38" fill="#dddcdc"/>
<circle cx="231.7" cy="357.5" r="1.38" fill="#f7b79b"/>
<circle cx="232.1" cy="358.7" r="1.38" fill="#f2cbb7"/>
<circle cx="231.8" cy="359.8" r="1.38" fill="#bb1b2c"/>
<circle cx="232.0" cy="361.0" r="1.38" fill="#bb1b2c"/>
<circle cx="232.0" cy="362.1" r="1.38" fill="#e57058"/>
<circle cx="232.4" cy="363.3" r="1.38" fill="#ee8468"/>
<circle cx="231.8" cy="364.4" r="1.38" fill="#ea7b60"/>
<circle cx="232.3" cy="365.6" r="1.38" fill="#ee8468"/>
<circle cx="231.8" cy="366.7" r="1.38" fill="#ee8468"/>
<circle cx="232.3" cy="367.9" r="1.38" fill="#ee8468"/>
<circle cx="232.4" cy="369.0" r="1.38" fill="#e57058"/>
<circle cx="231.9" cy="370.2" r="1.38" fill="#f6a586"/>
<circle cx="232.6" cy="337.4" r="1.38" fill="#ee8468"/>
<circle cx="231.8" cy="345.8" r="1.38" fill="#f7ac8e"/>
<circle cx="232.8" cy="347.0" r="1.38" fill="#f7ac8e"/>
<circle cx="234.7" cy="344.0" r="1.38" fill="#e36c55"/>
<circle cx="234.2" cy="349.0" r="1.38" fill="#dc5d4a"/>
<circle cx="232.8" cy="350.5" r="1.38" fill="#e36c55"/>
<circle cx="228.7" cy="342.3" r="1.15" fill="#b40426"/>
<circle cx="229.8" cy="343.5" r="1.15" fill="#efcfbf"/>
<circle cx="236.5" cy="342.6" r="1.38" fill="#b40426"/>
<circle cx="241.3" cy="342.6" r="1.38" fill="#b40426"/>
<circle cx="243.1" cy="342.6" r="1.38" fill="#b40426"/>
<circle cx="247.9" cy="342.6" r="1.38" fill="#b40426"/>
<circle cx="311.5" cy="342.8" r="1.38" fill="#4358cb"/>
<circle cx="322.2" cy="342.8" r="1.38" fill="#4358cb"/>
</g>
<line x1="67.5" x2="599.5" y1="427.25" y2="427.25" stroke="#505050" stroke-width="1"/>
<g stroke="#777" stroke-width="0.6"><line x1="93.4" x2="93.4" y1="427.5" y2="429.2"/><line x1="162.6" x2="162.6" y1="427.5" y2="429.2"/><line x1="231.8" x2="231.8" y1="427.5" y2="429.2"/><line x1="301.0" x2="301.0" y1="427.5" y2="429.2"/><line x1="370.2" x2="370.2" y1="427.5" y2="429.2"/><line x1="439.4" x2="439.4" y1="427.5" y2="429.2"/><line x1="508.6" x2="508.6" y1="427.5" y2="429.2"/><line x1="577.8" x2="577.8" y1="427.5" y2="429.2"/></g>
<g class="tick">
<text x="93.4" y="441.9">−200</text>
<text x="162.6" y="441.9">−100</text>
<text x="231.8" y="441.9">0</text>
<text x="301.0" y="441.9">100</text>
<text x="370.2" y="441.9">200</text>
<text x="439.4" y="441.9">300</text>
<text x="508.6" y="441.9">400</text>
<text x="577.8" y="441.9">500</text>
</g>
<g class="feat">
<text x="51.6" y="95.9">SF(i)</text>
<text x="51.6" y="180.5">PL(i)</text>
<text x="51.6" y="264.3">OBW(i)</text>
<text x="51.6" y="348.3">LL(i)</text>
</g>
<text x="333" y="461.5" font-size="18" fill="#111" text-anchor="middle">SHAP values</text>
<rect x="632.4" y="6.2" width="5.4" height="420.6" fill="url(#cw)"/>
<text class="cb" x="641" y="10.9">High</text>
<text class="cb" x="640.9" y="432">Low</text>
<text font-size="18" fill="#111" text-anchor="middle" transform="translate(683,216.2) rotate(-90)">Features Value</text>
</svg>
</body></html>
